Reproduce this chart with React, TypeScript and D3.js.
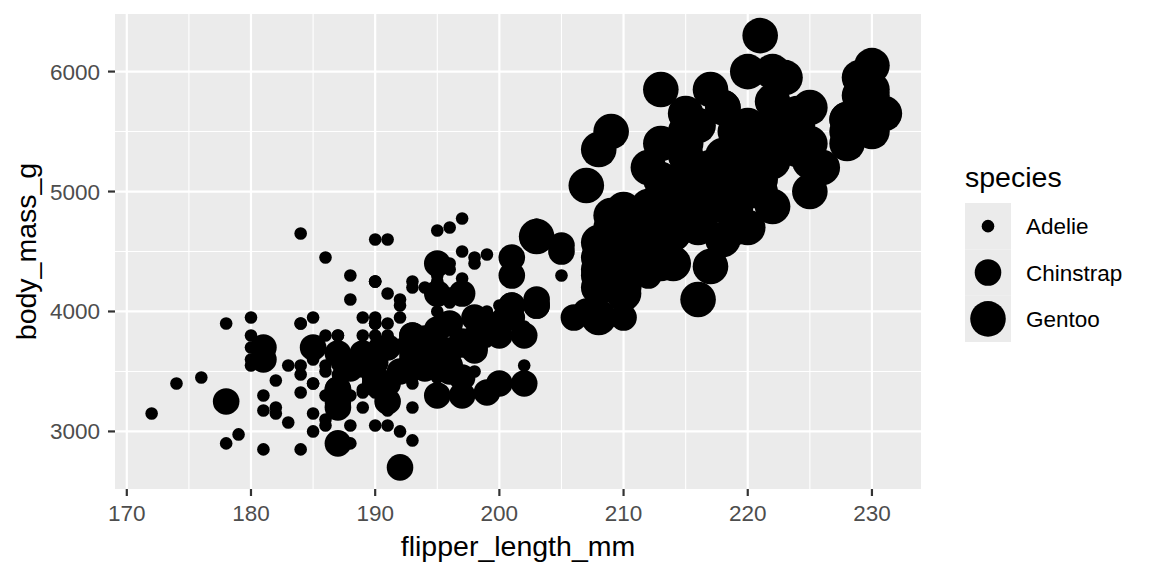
import * as d3 from "d3";

// flipper_length_mm, body_mass_g
const ADELIE: [number, number][] = [
  [181, 3750], [186, 3800], [195, 3250], [193, 3450], [190, 3650], [181, 3625], [195, 4675], [193, 3475], [190, 4250], [186, 3300],
  [180, 3700], [182, 3200], [191, 3800], [198, 4400], [185, 3700], [195, 3450], [197, 4500], [184, 3325], [194, 4200],
  [174, 3400], [180, 3600], [189, 3800], [185, 3950], [180, 3800], [187, 3800], [183, 3550], [187, 3200], [172, 3150], [180, 3950],
  [178, 3250], [178, 3900], [188, 3300], [184, 3900], [195, 3325], [196, 4150], [190, 3950], [180, 3550], [181, 3300], [184, 4650],
  [182, 3150], [195, 3900], [186, 3100], [196, 4400], [185, 3000], [190, 4600], [182, 3425], [179, 2975], [190, 3450], [191, 4150],
  [186, 3500], [188, 4300], [190, 3450], [200, 4050], [187, 2900], [191, 3700], [186, 3550], [193, 3800], [181, 2850], [194, 3750],
  [185, 3150], [195, 4400], [185, 3600], [192, 4050], [184, 2850], [192, 3950], [195, 3350], [188, 4100],
  [190, 3050], [198, 4450], [190, 3600], [190, 3900], [196, 3550], [197, 4150], [190, 3700], [195, 4250], [191, 3700], [184, 3900],
  [187, 3550], [195, 4000], [189, 3200], [196, 4700], [187, 3800], [193, 4200],
  [191, 3350], [194, 3550], [190, 3800], [189, 3500], [189, 3950], [190, 3600], [202, 3550], [205, 4300], [185, 3400], [186, 4450],
  [187, 3300], [208, 4300], [190, 3700], [196, 4350], [178, 2900], [192, 4100],
  [192, 3725], [203, 4725], [183, 3075], [190, 4250], [193, 2925], [184, 3550], [199, 3750], [190, 3900], [181, 3175], [197, 4775],
  [198, 3825], [191, 4600], [193, 3200], [197, 4275], [191, 3900], [196, 4075], [188, 2900], [199, 3775], [189, 3350], [189, 3325],
  [187, 3150], [198, 3500], [176, 3450], [202, 3875], [186, 3050], [199, 4000], [191, 3275], [195, 4300], [191, 3050], [210, 4000],
  [190, 3325], [197, 3500], [193, 3500], [199, 4475], [187, 3425], [190, 3900], [191, 3175], [200, 3975], [185, 3400], [193, 4250],
  [193, 3400], [187, 3475], [188, 3050], [190, 3725], [192, 3000], [185, 3650], [190, 4250], [184, 3475], [195, 3450], [193, 3750],
  [187, 3700], [201, 4000],
];

const GENTOO: [number, number][] = [
  [211, 4500], [230, 5700], [210, 4450], [218, 5700], [215, 5400], [210, 4550], [211, 4800], [219, 5200], [209, 4400], [215, 5150],
  [214, 4650], [216, 5550], [214, 4650], [213, 5850], [210, 4200], [217, 5850], [210, 4150], [221, 6300], [209, 4800], [222, 5350],
  [218, 5700], [215, 5000], [213, 4400], [215, 5050], [215, 5000], [215, 5100], [216, 4100], [215, 5650], [210, 4600], [220, 5550],
  [222, 5250], [209, 4700], [207, 5050], [230, 6050],
  [220, 5150], [220, 5400], [213, 4950], [219, 5250], [208, 4350], [208, 5350], [208, 3950], [225, 5700], [210, 4300], [216, 4750],
  [222, 5550], [217, 4900], [210, 4200], [225, 5400], [213, 5100], [215, 5300], [210, 4850], [220, 5300], [210, 4400], [225, 5000],
  [217, 4900], [220, 5050], [208, 4300], [220, 5000], [208, 4450], [224, 5550], [208, 4200], [221, 5300], [214, 4400], [231, 5650],
  [219, 4700], [230, 5700], [214, 4650], [229, 5800], [220, 4700], [223, 5550], [216, 4750], [221, 5000], [221, 5100], [217, 5200],
  [216, 4700], [230, 5800], [209, 4600], [220, 6000], [215, 4750], [223, 5950],
  [212, 4625], [221, 5450], [212, 4725], [224, 5350], [212, 4750], [228, 5600], [218, 4600], [218, 5300], [212, 4875], [230, 5550],
  [218, 4950], [228, 5400], [212, 4750], [224, 5650], [214, 4850], [226, 5200], [216, 4925], [222, 4875], [203, 4625], [225, 5250],
  [219, 4850], [228, 5600], [215, 4975], [228, 5500], [216, 4725], [215, 5500], [210, 4700], [219, 5500], [208, 4575], [209, 5500],
  [216, 5000], [229, 5950], [213, 4650], [230, 5500], [217, 4375], [230, 5850], [217, 4875], [222, 6000], [214, 4925], [215, 4850],
  [222, 5750], [212, 5200], [213, 5400],
];

const CHINSTRAP: [number, number][] = [
  [192, 3500], [196, 3900], [193, 3650], [188, 3525], [197, 3725], [198, 3950], [178, 3250], [197, 3750], [195, 4150], [198, 3700],
  [193, 3800], [194, 3775], [185, 3700], [201, 4050], [190, 3575], [201, 4050], [197, 3300], [181, 3700], [190, 3450], [195, 4400],
  [181, 3600], [191, 3400], [187, 2900], [193, 3800], [195, 3300], [197, 4150],
  [200, 3400], [200, 3800], [191, 3700], [205, 4550], [187, 3200], [201, 4300], [187, 3350], [203, 4100], [195, 3600], [199, 3900],
  [195, 3850], [210, 4800], [192, 2700], [205, 4500], [210, 3950], [187, 3650], [196, 3550],
  [196, 3500], [196, 3675], [201, 4450], [190, 3400], [212, 4300], [187, 3250], [198, 3675], [199, 3325], [201, 3950], [193, 3600],
  [203, 4050], [187, 3350], [197, 3450], [191, 3250], [203, 4050], [202, 3800], [194, 3525], [206, 3950], [189, 3650], [195, 3650],
  [207, 4000], [202, 3400], [193, 3775], [210, 4100], [198, 3775],
];

const SPECIES = ["Adelie", "Chinstrap", "Gentoo"];
const X_TICKS = [170, 180, 190, 200, 210, 220, 230];
const Y_TICKS = [3000, 4000, 5000, 6000];

const W = 1152;
const H = 576;
const panel = { left: 115, right: 921, top: 14, bottom: 489 };
const FONT = "'Liberation Sans', Arial, sans-serif";

export default function App() {
  const all = [...ADELIE, ...GENTOO, ...CHINSTRAP];
  const xExt = d3.extent(all, (d) => d[0]) as [number, number];
  const yExt = d3.extent(all, (d) => d[1]) as [number, number];
  const xPad = (xExt[1] - xExt[0]) * 0.05;
  const yPad = (yExt[1] - yExt[0]) * 0.05;
  const x = d3.scaleLinear().domain([xExt[0] - xPad, xExt[1] + xPad]).range([panel.left, panel.right]);
  const y = d3.scaleLinear().domain([yExt[0] - yPad, yExt[1] + yPad]).range([panel.bottom, panel.top]);
  const r = d3.scaleOrdinal<string, number>().domain(SPECIES).range([6.3, 13.3, 17.8]);

  const xMinor = d3.range(165, 240, 10).filter((v) => v > x.domain()[0] && v < x.domain()[1]);
  const yMinor = d3.range(2500, 7000, 1000).filter((v) => v > y.domain()[0] && v < y.domain()[1]);

  const series: { sp: string; pts: [number, number][] }[] = [
    { sp: "Adelie", pts: ADELIE },
    { sp: "Gentoo", pts: GENTOO },
    { sp: "Chinstrap", pts: CHINSTRAP },
  ];

  const legend = d3.scaleBand().domain(SPECIES).range([203, 342]);

  return (
    <svg width={W} height={H} style={{ position: "absolute", left: 0, top: 0, background: "#fff" }} fontFamily={FONT}>
      <rect x={panel.left} y={panel.top} width={panel.right - panel.left} height={panel.bottom - panel.top} fill="#EBEBEB" />
      {xMinor.map((v) => (
        <line key={"xm" + v} x1={x(v)} x2={x(v)} y1={panel.top} y2={panel.bottom} stroke="#fff" strokeWidth={1.1} />
      ))}
      {yMinor.map((v) => (
        <line key={"ym" + v} x1={panel.left} x2={panel.right} y1={y(v)} y2={y(v)} stroke="#fff" strokeWidth={1.1} />
      ))}
      {X_TICKS.map((v) => (
        <line key={"xg" + v} x1={x(v)} x2={x(v)} y1={panel.top} y2={panel.bottom} stroke="#fff" strokeWidth={2.2} />
      ))}
      {Y_TICKS.map((v) => (
        <line key={"yg" + v} x1={panel.left} x2={panel.right} y1={y(v)} y2={y(v)} stroke="#fff" strokeWidth={2.2} />
      ))}
      {series.map((s) =>
        s.pts.map((d, i) => <circle key={s.sp + i} cx={x(d[0])} cy={y(d[1])} r={r(s.sp)} fill="#000" />)
      )}
      {X_TICKS.map((v) => (
        <g key={"xt" + v}>
          <line x1={x(v)} x2={x(v)} y1={panel.bottom} y2={panel.bottom + 7} stroke="#333" strokeWidth={2.2} />
          <text x={x(v)} y={521} textAnchor="middle" fontSize={22.5} fill="#4D4D4D">{v}</text>
        </g>
      ))}
      {Y_TICKS.map((v) => (
        <g key={"yt" + v}>
          <line x1={panel.left - 7} x2={panel.left} y1={y(v)} y2={y(v)} stroke="#333" strokeWidth={2.2} />
          <text x={100} y={y(v) + 8} textAnchor="end" fontSize={22.5} fill="#4D4D4D">{v}</text>
        </g>
      ))}
      <text x={(panel.left + panel.right) / 2} y={556} textAnchor="middle" fontSize={28.5} fill="#000">flipper_length_mm</text>
      <text transform={`translate(36,${(panel.top + panel.bottom) / 2}) rotate(-90)`} textAnchor="middle" fontSize={28.5} fill="#000">body_mass_g</text>

      <text x={965} y={187} fontSize={28.5} fill="#000">species</text>
      {SPECIES.map((sp) => {
        const cy = (legend(sp) ?? 0) + legend.bandwidth() / 2;
        return (
          <g key={"lg" + sp}>
            <rect x={965} y={legend(sp)} width={46} height={legend.bandwidth()} fill="#EBEBEB" />
            <circle cx={988} cy={cy} r={r(sp)} fill="#000" />
            <text x={1026} y={cy + 8} fontSize={22.5} fill="#000">{sp}</text>
          </g>
        );
      })}
    </svg>
  );
}
